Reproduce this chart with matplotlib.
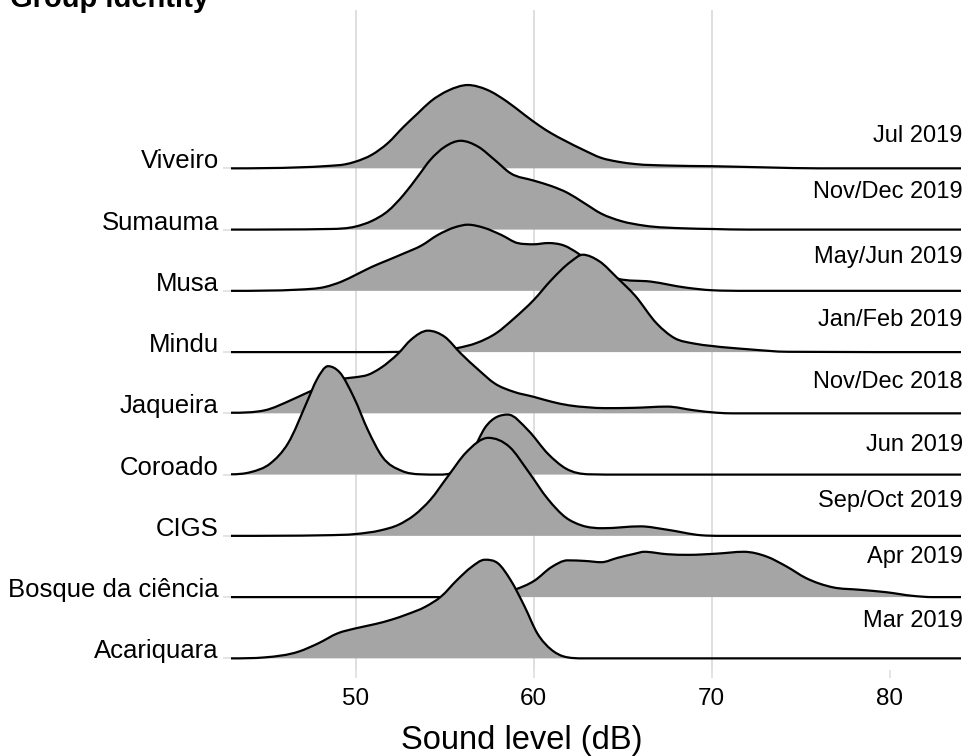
import numpy as np
import matplotlib
matplotlib.use("Agg")
import matplotlib.pyplot as plt
from matplotlib.path import Path
from matplotlib.patches import PathPatch

plt.rcParams['font.family'] = ['Liberation Sans', 'DejaVu Sans']

# sites from bottom row to top row, and the sampling period of each
sites = ["Acariquara", "Bosque da ciência", "CIGS", "Coroado", "Jaqueira",
         "Mindu", "Musa", "Sumauma", "Viveiro"]
periods = ["Mar 2019", "Apr 2019", "Sep/Oct 2019", "Jun 2019", "Nov/Dec 2018",
           "Jan/Feb 2019", "May/Jun 2019", "Nov/Dec 2019", "Jul 2019"]

# ridge heights (in row units) at the given sound levels (dB)
acariquara_db = [43, 44.9, 46.8, 47.9, 49, 50, 51.1, 52, 52.9, 53.9, 54.8, 55.7, 56.5,
                 57.25, 58, 58.7, 59.5, 60.2, 61, 61.7, 62.8, 84]
acariquara_h = [0, 0.016, 0.11, 0.245, 0.41, 0.49, 0.56, 0.63, 0.72, 0.84, 1.01, 1.28, 1.49,
                1.61, 1.55, 1.28, 0.84, 0.41, 0.14, 0.03, 0, 0]

bosque_db = [43, 55, 56.5, 57.8, 58.9, 60.05, 61.0, 61.9, 62.9, 63.8, 64.7, 65.7, 66.2,
             67.5, 68.7, 70.3, 71.8, 73.1, 74.2, 75.3, 76.8, 78.3, 79.8, 81.3, 82.4, 84]
bosque_h = [0, 0, 0.02, 0.06, 0.12, 0.27, 0.49, 0.60, 0.59, 0.57, 0.64, 0.71, 0.74,
            0.70, 0.69, 0.71, 0.74, 0.66, 0.50, 0.31, 0.16, 0.12, 0.08, 0.02, 0, 0]

cigs_db = [43, 48.3, 50, 51.4, 52.4, 53.3, 54.2, 55.2, 56.2, 57.45, 58.65, 59.7, 60.8,
           61.8, 62.7, 63.9, 66.0, 67.5, 69.4, 70.5, 84]
cigs_h = [0, 0.01, 0.03, 0.09, 0.18, 0.34, 0.59, 0.98, 1.36, 1.60, 1.45, 1.05, 0.60,
          0.30, 0.17, 0.125, 0.155, 0.10, 0.01, 0, 0]

coroado_db = [43, 44.1, 45.2, 46.2, 47.3, 47.8, 48.45, 49.1, 49.9, 50.7, 51.5, 52.6, 53.6,
              54.7, 55.5, 56.5, 57.3, 58.55, 59.7, 60.8, 61.8, 63.1, 65, 84]
coroado_h = [0.005, 0.04, 0.18, 0.51, 1.21, 1.54, 1.77, 1.67, 1.26, 0.72, 0.29, 0.06, 0.005,
             0, 0.04, 0.35, 0.78, 0.98, 0.72, 0.34, 0.10, 0.005, 0, 0]

jaqueira_db = [43, 44.9, 46.4, 47.0, 48.0, 48.8, 49.4, 50, 50.7, 51.4, 52.4, 53.1, 54.06,
               55.0, 55.9, 56.9, 57.8, 58.9, 60, 61, 62, 63, 64, 65.6, 67.5, 69, 70.3,
               71.2, 84]
jaqueira_h = [0.01, 0.05, 0.22, 0.30, 0.43, 0.53, 0.57, 0.59, 0.63, 0.74, 0.98, 1.20, 1.35,
              1.25, 0.98, 0.71, 0.49, 0.35, 0.27, 0.19, 0.13, 0.10, 0.085, 0.09, 0.11, 0.05,
              0.01, 0, 0]

mindu_db = [43, 50, 53, 55, 55.7, 56.8, 57.9, 58.9, 60, 61, 62.1, 62.75, 63.7, 64.7, 65.7,
            66.9, 67.9, 69, 70, 72.1, 74.3, 84]
mindu_h = [0, 0, 0.005, 0.03, 0.065, 0.15, 0.31, 0.55, 0.85, 1.18, 1.48, 1.59, 1.48, 1.21,
           0.92, 0.47, 0.23, 0.14, 0.10, 0.045, 0.005, 0]

musa_db = [43, 46.8, 48.3, 49.2, 50, 50.9, 51.8, 52.7, 53.7, 54.6, 55.6, 56.3, 57.2, 58.2,
           59.1, 60, 60.8, 61.7, 62.5, 63.5, 64.7, 66.6, 68.5, 70, 72, 84]
musa_h = [0, 0.02, 0.065, 0.15, 0.26, 0.39, 0.50, 0.61, 0.74, 0.91, 1.04, 1.08, 1.03, 0.91,
          0.78, 0.76, 0.78, 0.74, 0.61, 0.38, 0.20, 0.15, 0.055, 0.01, 0, 0]

sumauma_db = [43, 48.6, 50, 50.9, 51.8, 52.7, 53.5, 54.2, 55.0, 55.9, 56.9, 57.8, 58.7, 60,
              61, 61.9, 62.8, 63.8, 64.9, 66.2, 68.5, 70, 72, 84]
sumauma_h = [0, 0.01, 0.05, 0.14, 0.30, 0.57, 0.87, 1.14, 1.35, 1.45, 1.35, 1.14, 0.92, 0.80,
             0.71, 0.60, 0.44, 0.26, 0.14, 0.065, 0.02, 0.01, 0, 0]

viveiro_db = [43, 46.8, 48.5, 49.4, 50, 50.9, 51.8, 52.7, 53.5, 54.2, 55.2, 56.3, 57.4, 58.5,
              59.5, 60.3, 61.0, 61.7, 62.8, 63.8, 64.7, 65.7, 67.6, 70.0, 73.1, 76, 84]
viveiro_h = [0, 0.016, 0.04, 0.065, 0.11, 0.22, 0.41, 0.68, 0.90, 1.09, 1.27, 1.36, 1.28, 1.09,
             0.87, 0.70, 0.57, 0.46, 0.30, 0.17, 0.11, 0.07, 0.045, 0.035, 0.015, 0, 0]

ridges = [(acariquara_db, acariquara_h), (bosque_db, bosque_h), (cigs_db, cigs_h),
          (coroado_db, coroado_h), (jaqueira_db, jaqueira_h), (mindu_db, mindu_h),
          (musa_db, musa_h), (sumauma_db, sumauma_h), (viveiro_db, viveiro_h)]

x_ticks = [50, 60, 70, 80]
grid_at = [50, 60, 70]

# layout: how far above each baseline the period text sits (row units)
label_rise = [0.51, 0.55, 0.47, 0.39, 0.41, 0.42, 0.46, 0.52, 0.43]


def ridge_verts(xs, ys):
    # smooth cubic path through the read points, limited so it does not overshoot
    xs = np.asarray(xs, float)
    ys = np.asarray(ys, float)
    n = len(xs)
    h = np.diff(xs)
    d = np.diff(ys) / h
    m = np.zeros(n)
    for i in range(1, n - 1):
        if d[i - 1] * d[i] > 0:
            mi = (d[i - 1] * h[i] + d[i] * h[i - 1]) / (h[i - 1] + h[i])
            lim = 3 * min(abs(d[i - 1]), abs(d[i]))
            m[i] = np.sign(mi) * min(abs(mi), lim)
    verts = [(xs[0], ys[0])]
    codes = [Path.MOVETO]
    for i in range(n - 1):
        dx = h[i]
        verts += [(xs[i] + dx / 3, ys[i] + m[i] * dx / 3),
                  (xs[i + 1] - dx / 3, ys[i + 1] - m[i + 1] * dx / 3),
                  (xs[i + 1], ys[i + 1])]
        codes += [Path.CURVE4] * 3
    return verts, codes


fig = plt.figure(figsize=(9.7, 7.56), dpi=100)
ax = fig.add_axes([231 / 970, 1 - 670 / 756, 730 / 970, 660 / 756])
ax.set_xlim(43, 84)
ax.set_ylim(-0.19, 10.585)

for g in grid_at:
    ax.axvline(g, color='#DCDCDC', lw=1.3, zorder=0.5)

n_rows = len(sites)
for i in range(n_rows - 1, -1, -1):
    xs, hs = ridges[i]
    base = i
    verts, codes = ridge_verts(xs, np.asarray(hs) + base)
    z = 2 + (n_rows - i)
    fill_verts = verts + [(xs[-1], base), (xs[0], base), verts[0]]
    fill_codes = codes + [Path.LINETO, Path.LINETO, Path.CLOSEPOLY]
    ax.add_patch(PathPatch(Path(fill_verts, fill_codes), facecolor='#A5A5A5',
                           edgecolor='none', zorder=z))
    ax.add_patch(PathPatch(Path(verts, codes), facecolor='none', edgecolor='black',
                           lw=1.6, capstyle='butt', joinstyle='round', zorder=z + 0.1))
    ax.text(84.1, base + label_rise[i], periods[i], ha='right', va='baseline',
            fontsize=17, color='black', zorder=20)

ax.set_yticks(range(n_rows))
ax.set_yticklabels(sites)
for lab in ax.get_yticklabels():
    lab.set_va('baseline')
ax.set_xticks(x_ticks)
ax.set_xticklabels([str(t) for t in x_ticks])
ax.tick_params(axis='x', length=5.8, width=1.1, color='#DCDCDC', pad=7,
               labelsize=17.5, labelcolor='black')
ax.tick_params(axis='y', length=5.8, width=1.1, color='#DCDCDC', pad=3,
               labelsize=18.5, labelcolor='black')
for s in ax.spines.values():
    s.set_visible(False)

fig.text(10 / 970, 1 - 7 / 756, 'Group identity', fontsize=21, fontweight='bold',
         ha='left', va='baseline')
fig.text(522 / 970, 1 - 741 / 756, 'Sound level (dB)', fontsize=23.5,
         ha='center', va='center')

fig.savefig('out.png', dpi=100)
